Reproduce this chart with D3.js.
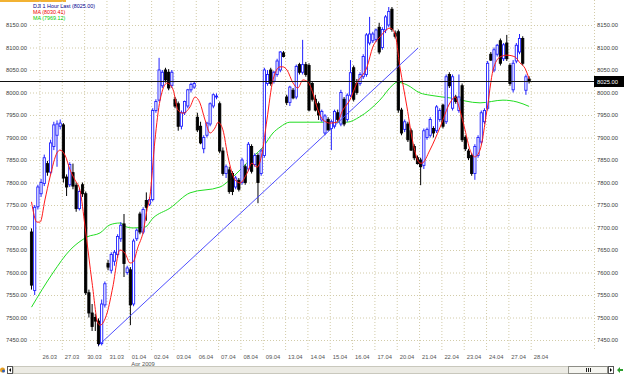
<!DOCTYPE html>
<html><head><meta charset="utf-8">
<script src="https://cdn.jsdelivr.net/npm/d3@7"></script>
<style>
body{margin:0;background:#fff;overflow:hidden}
svg{display:block;font-family:"Liberation Sans",Arial,sans-serif}
</style>
</head><body>
<svg id="c" width="625" height="375"></svg>
<script>
// ---------- DATA ----------
const dayLabels = ["26.03","27.03","30.03","31.03","01.04","02.04","03.04","06.04","07.04","08.04","09.04","13.04","14.04","15.04","16.04","17.04","20.04","21.04","22.04","23.04","24.04","27.04","28.04"];
const monthLabel = "Apr 2009";
const priceTicks = [7450,7500,7550,7600,7650,7700,7750,7800,7850,7900,7950,8000,8050,8100,8150];
const seriesName = "DJI 1 Hour Last";
const lastPrice = 8025.00;
const maFastLast = 8030.41;
const maSlowLast = 7969.12;
// hourly candles [open, high, low, close]
const ohlc = [
[7690,7698,7562,7572],[7560,7750,7550,7745],[7746,7795,7740,7790],[7775,7808,7768,7800],[7798,7862,7792,7855],
[7842,7848,7815,7823],[7823,7895,7818,7888],[7880,7935,7872,7928],[7905,7938,7835,7930],[7925,7940,7918,7932],
[7928,7932,7800,7810],[7812,7818,7770,7790],[7795,7845,7790,7840],[7822,7842,7785,7792],[7794,7800,7735,7742],
[7742,7785,7738,7780],[7795,7800,7768,7775],[7775,7780,7550,7555],[7555,7562,7500,7510],[7510,7530,7470,7480],
[7500,7508,7470,7492],[7492,7498,7436,7442],[7442,7540,7438,7530],[7528,7580,7522,7575],[7620,7628,7605,7612],
[7605,7645,7598,7640],[7625,7650,7615,7645],[7640,7685,7632,7680],[7675,7712,7668,7705],[7708,7730,7590,7620],
[7600,7615,7595,7610],[7606,7612,7483,7528],[7530,7675,7525,7670],[7675,7698,7670,7694],[7730,7735,7685,7690],
[7690,7745,7685,7740],[7760,7778,7715,7745],[7752,7768,7748,7762],[7762,7965,7758,7960],[7960,7985,7955,7980],
[7983,8077,7980,8050],[8015,8050,8010,8045],[8050,8055,8022,8028],[8045,8052,8005,8010],[8016,8050,8010,8045],
[7985,7990,7965,7970],[7975,7980,7915,7925],[7925,7960,7918,7955],[7955,7982,7950,7980],[7970,8008,7965,8006],
[8006,8022,8000,8018],[8012,8025,8008,8020],[7945,7955,7912,7917],[7925,7935,7885,7888],[7875,7905,7865,7900],
[7905,7935,7900,7932],[7930,7978,7925,7975],[7970,7998,7965,7995],[7990,7998,7985,7992],[7975,7980,7865,7870],
[7870,7878,7815,7820],[7820,7840,7810,7835],[7828,7835,7775,7780],[7820,7825,7772,7780],[7790,7815,7785,7810],
[7805,7810,7780,7785],[7800,7855,7795,7850],[7835,7840,7795,7800],[7830,7890,7825,7885],[7880,7885,7820,7825],
[7840,7865,7835,7860],[7860,7865,7754,7800],[7820,7875,7815,7870],[7860,8055,7855,8050],[8020,8050,8015,8040],
[8050,8055,8015,8020],[8025,8048,8020,8045],[8040,8075,8035,8070],[8050,8092,8045,8090],[8088,8092,8078,8080],
[7990,7995,7972,7978],[7978,8015,7970,8012],[8005,8010,7985,7988],[7990,8062,7985,8058],[8062,8066,8040,8045],
[8045,8117,8040,8062],[8062,8068,8035,8040],[8060,8065,7958,7961],[8020,8025,7980,7985],[7985,7995,7958,7961],
[7975,7980,7939,7950],[7939,7962,7935,7958],[7910,7952,7905,7948],[7940,7945,7915,7917],[7920,7940,7872,7935],
[7925,7962,7920,7958],[7955,7962,7935,7940],[7930,8006,7925,8000],[7985,7990,7925,7930],[7940,7998,7935,7994],
[7994,8072,7990,8044],[8055,8060,7980,7985],[8020,8030,7995,8000],[8020,8045,8015,8040],[8035,8085,8030,8080],
[8040,8132,8035,8128],[8110,8168,8105,8130],[8115,8135,8110,8130],[8118,8142,8112,8139],[8145,8155,8085,8090],
[8100,8145,8095,8140],[8139,8172,8132,8168],[8150,8190,8145,8180],[8185,8190,8135,8140],[8132,8138,8120,8125],
[8135,8140,7955,7961],[7961,7966,7905,7910],[7918,7940,7912,7935],[7930,7935,7890,7895],[7915,7920,7870,7872],
[7880,7885,7850,7855],[7855,7860,7840,7842],[7850,7855,7794,7835],[7838,7920,7830,7915],[7900,7922,7895,7918],
[7905,7945,7900,7940],[7920,7925,7900,7910],[7915,7972,7910,7968],[7940,7965,7935,7960],[7972,7975,7920,7925],
[7935,8040,7930,8035],[8040,8045,8010,8015],[7965,8040,7960,8035],[7990,7995,7975,7980],[7960,8040,7955,7990],
[8015,8020,7890,7895],[7900,7905,7870,7875],[7870,7875,7850,7855],[7860,7865,7815,7820],[7820,7885,7806,7880],
[7860,7905,7855,7900],[7890,7960,7885,7955],[7935,7965,7930,7960],[7965,8070,7960,8065],[8085,8090,8070,8072],
[8050,8100,8045,8095],[8085,8108,8080,8105],[8115,8120,8060,8065],[8075,8110,8070,8106],[8110,8128,8070,8075],
[8060,8065,8015,8020],[8006,8072,8000,8065],[8070,8110,8065,8105],[8090,8130,8085,8120],[8120,8125,8060,8065],
[8005,8040,7995,8035],[8030,8036,8020,8025]
];
// red moving average [bar index, value]
const maFast = [
[0,7757],[1.7,7712],[2.7,7712],[4.2,7761],[5.8,7812],[8.0,7866],[8.9,7872],[10.5,7861],[12.1,7828],[13.6,7806],
[15.2,7783],[16.8,7701],[19.0,7577],[20.8,7488],[21.5,7483],[23.7,7510],[25.5,7568],[27.7,7650],[29.3,7643],[30.9,7621],
[31.8,7623],[33.4,7657],[35.0,7690],[36.2,7739],[37.1,7768],[38.7,7894],[40.3,7983],[42.5,8021],[44.4,8006],[45.9,7961],
[47.5,7954],[49.7,7968],[51.3,7990],[52.8,7977],[54.4,7939],[56.0,7910],[57.5,7921],[58.5,7934],[60.0,7917],[61.6,7857],
[63.8,7806],[65.4,7799],[67.6,7821],[69.1,7843],[70.7,7834],[72.3,7866],[73.8,7939],[75.7,8028],[77.9,8057],[78.8,8057],
[80.1,8050],[82.0,8021],[83.5,8010],[85.1,8028],[86.7,8023],[88.2,7999],[89.8,7961],[91.4,7939],[93.6,7932],[95.8,7934],
[97.6,7961],[99.8,7983],[102.0,8021],[105.2,8057],[107.0,8101],[109.2,8123],[112.4,8143],[113.9,8132],[115.5,8057],[117.7,7968],
[119.6,7888],[121.8,7843],[122.4,7843],[124.9,7872],[128.1,7923],[131.2,7977],[132.8,7990],[134.3,7961],[135.9,7917],[137.5,7872],
[139.0,7857],[140.6,7872],[142.8,7961],[144.7,8050],[146.9,8079],[149.1,8083],[151.6,8079],[153.1,8066],[154.7,8054],[156,8030.41]
];
// green moving average [bar index, value]
const maSlow = [
[0,7523],[6.7,7599],[12.1,7650],[15.8,7672],[17.4,7679],[21.5,7688],[24.6,7706],[27.7,7710],[29.9,7701],[31.8,7699],
[35.6,7701],[38.1,7721],[43.4,7743],[49.7,7777],[59.1,7790],[62.2,7806],[65.4,7828],[69.4,7857],[72.6,7879],[75.7,7910],
[77.9,7923],[81.0,7934],[90.4,7934],[98.9,7934],[102.9,7946],[109.2,7983],[113.3,8017],[114.6,8023],[117.7,8017],[121.8,7999],
[124.9,7994],[131.2,7988],[140.6,7977],[147.8,7983],[152.2,7979],[156,7969.12]
];
// trend line drawn on the chart [bar index, value]
const trendLine = [[21,7438],[121.2,8099]];

// ---------- CHART ----------
const svg = d3.select("#c");
const W = 625, H = 375;
const plotL = 30, plotR = 594, plotB = 350;
const x = d3.scaleLinear().domain([0, 156]).range([31.5, 529.1]);
const y = d3.scaleLinear().domain([7450, 8150]).range([340, 25]);
const fmt = d3.format(".2f");
const gridCol = "#d2cba8";
const textCol = "#3c3c3c";

svg.append("rect").attr("width", W).attr("height", H).attr("fill", "#fff");
// top tab strip
svg.append("rect").attr("x",0).attr("y",0).attr("width",66).attr("height",2).attr("fill","#f2b233");

// horizontal grid + left labels
const gl = svg.append("g").attr("transform", `translate(${plotL},0)`)
  .call(d3.axisLeft(y).tickValues(priceTicks).tickSize(-(plotR - plotL)).tickPadding(3).tickFormat(fmt));
gl.select(".domain").remove();
gl.selectAll("line").attr("stroke", gridCol).attr("stroke-dasharray", "1,2");
gl.selectAll("text").attr("fill", textCol).style("font-size", "5.8px");

// right labels
const gr = svg.append("g").attr("transform", `translate(${plotR},0)`)
  .call(d3.axisRight(y).tickValues(priceTicks).tickSize(0).tickPadding(3).tickFormat(fmt));
gr.select(".domain").remove();
gr.selectAll("text").attr("fill", textCol).style("font-size", "5.8px");

// vertical day grid + date labels
const dayStarts = dayLabels.map((d, i) => 2.5 + 7 * i);
const gx = svg.append("g").attr("transform", `translate(0,${plotB})`)
  .call(d3.axisBottom(x).tickValues(dayStarts).tickSize(-plotB).tickFormat((d, i) => dayLabels[i]));
gx.select(".domain").remove();
gx.selectAll("line").attr("stroke", gridCol).attr("stroke-dasharray", "1,2");
gx.selectAll("text").attr("fill", "#555").style("font-size", "5.8px")
  .attr("text-anchor", "start").attr("x", 2.5).attr("y", 8.5).attr("dy", 0);
svg.append("text").attr("x", x(dayStarts[4]) + 2.5).attr("y", 365.5)
  .attr("fill", "#555").style("font-size", "5.8px").text(monthLabel);

// right border grid line
svg.append("line").attr("x1", plotR + 0.5).attr("x2", plotR + 0.5).attr("y1", 0).attr("y2", plotB)
  .attr("stroke", gridCol).attr("stroke-dasharray", "1,2");

// moving averages
const line = d3.line().x(d => x(d[0])).y(d => y(d[1])).curve(d3.curveMonotoneX);
svg.append("path").datum(maSlow).attr("d", line).attr("fill", "none").attr("stroke", "#22dd22").attr("stroke-width", 1);

// candles
const upCol = "#1f1fff";
const cg = svg.append("g").selectAll("g").data(ohlc).join("g");
cg.append("line")
  .attr("x1", (d, i) => x(i)).attr("x2", (d, i) => x(i))
  .attr("y1", d => y(d[1])).attr("y2", d => y(d[2]))
  .attr("stroke", d => d[3] >= d[0] ? upCol : "#000").attr("stroke-width", 1);
cg.append("rect")
  .attr("x", (d, i) => x(i) - 1.1).attr("width", 2.2)
  .attr("y", d => y(Math.max(d[0], d[3])))
  .attr("height", d => Math.max(0.8, Math.abs(y(d[0]) - y(d[3]))))
  .attr("fill", d => d[3] >= d[0] ? "#fff" : "#000")
  .attr("stroke", d => d[3] >= d[0] ? upCol : "#000").attr("stroke-width", 0.9);

svg.append("path").datum(maFast).attr("d", line).attr("fill", "none").attr("stroke", "#ff1a1a").attr("stroke-width", 1);

// trend line
svg.append("line").attr("x1", x(trendLine[0][0])).attr("y1", y(trendLine[0][1]))
  .attr("x2", x(trendLine[1][0])).attr("y2", y(trendLine[1][1]))
  .attr("stroke", "#3b3bff").attr("stroke-width", 0.9);

// last price line + tag
const ly = Math.round(y(lastPrice)) + 0.5;
svg.append("line").attr("x1", 0).attr("x2", plotR).attr("y1", ly).attr("y2", ly).attr("stroke", "#111").attr("stroke-width", 1);
svg.append("rect").attr("x", plotR).attr("y", ly - 5.5).attr("width", 30).attr("height", 11).attr("fill", "#000");
svg.append("text").attr("x", plotR + 3).attr("y", ly + 2.2).attr("fill", "#fff").style("font-size", "5.8px").text(fmt(lastPrice));

// legend
const leg = [
  {t: `${seriesName} (${fmt(lastPrice)})`, c: "#000090"},
  {t: `MA (${fmt(maFastLast)})`, c: "#ee0000"},
  {t: `MA (${fmt(maSlowLast)})`, c: "#00cc00"}
];
svg.append("g").selectAll("text").data(leg).join("text")
  .attr("x", 33).attr("y", (d, i) => 7.5 + i * 6).attr("fill", d => d.c)
  .style("font-size", "5.4px").text(d => d.t);

// bottom scrollbar
const sb = svg.append("g");
sb.append("rect").attr("x", 13.5).attr("y", 366.5).attr("width", 594).attr("height", 7).attr("fill", "#ecebe4").attr("stroke", "#c9c8bd");
sb.append("rect").attr("x", 568.5).attr("y", 366.5).attr("width", 39).attr("height", 7).attr("fill", "#f5f5f0").attr("stroke", "#8d8d86");
[-2, 0, 2].forEach(o => sb.append("line").attr("x1", 588 + o + 0.5).attr("x2", 588 + o + 0.5).attr("y1", 368).attr("y2", 372).attr("stroke", "#222"));
sb.append("rect").attr("x", 7.5).attr("y", 366.5).attr("width", 5).attr("height", 7).attr("fill", "#fff").attr("stroke", "#555");
sb.append("path").attr("d", "M11,368 L9,370 L11,372 Z").attr("fill", "#000");
sb.append("rect").attr("x", 608.5).attr("y", 366.5).attr("width", 5).attr("height", 7).attr("fill", "#fff").attr("stroke", "#555");
sb.append("path").attr("d", "M610,368 L612,370 L610,372 Z").attr("fill", "#000");
sb.append("path").attr("d", "M617,370 L620,367 L620,369 L623,369 L623,371 L620,371 L620,373 Z").attr("fill", "#2e9e2e");
sb.append("circle").attr("cx", 2.5).attr("cy", 370).attr("r", 2.5).attr("fill", "#e8a020");
sb.append("circle").attr("cx", 3.5).attr("cy", 371).attr("r", 1.5).attr("fill", "#3060c0");
</script>
</body></html>
